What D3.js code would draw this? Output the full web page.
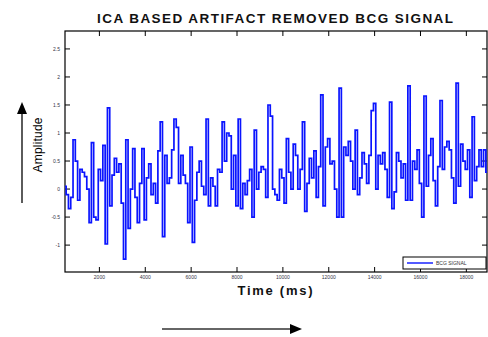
<!DOCTYPE html>
<html><head><meta charset="utf-8">
<script src="https://cdn.jsdelivr.net/npm/d3@7"></script>
<style>body{margin:0;background:#fff}svg{display:block}</style>
</head><body><svg id="c" width="488" height="337"></svg>
<script>
const title = "ICA BASED ARTIFACT REMOVED BCG SIGNAL";
const xLabel = "Time (ms)";
const yLabel = "Amplitude";
const seriesName = "BCG SIGNAL";
const xTicks = [2000, 4000, 6000, 8000, 10000, 12000, 14000, 16000, 18000];
const xTickLabels = ["2000","4000","6000","8000","10000","12000","14000","16000","18000"];
const yTicks = [2.5, 2, 1.5, 1, 0.5, 0, -0.5, -1];
const yTickLabels = ["2.5","2","1.5","1","0.5","0","-0.5","-1"];
const tStart = 500, tStep = 100;
const amplitude = [
 0.05,-0.1,-0.35,-0.15,0.88,0.5,-0.2,0.35,0.3,0.22,
 0.0,-0.6,0.83,-0.5,-0.55,0.35,0.15,0.78,-0.98,1.45,
 -0.3,0.25,0.55,0.3,0.45,-0.25,-1.25,0.88,-0.7,0.0,
 0.72,-0.15,-0.6,0.1,0.72,-0.55,0.2,0.45,-0.1,0.1,
 -0.25,0.68,1.2,-0.85,0.6,0.1,0.2,0.7,1.25,1.1,
 0.1,0.6,0.25,0.1,-0.6,0.75,-0.95,-0.2,0.3,0.5,
 0.05,-0.1,1.25,-0.3,0.2,0.05,-0.3,0.35,0.3,1.2,
 0.5,1.0,0.95,0.0,0.6,-0.3,1.25,-0.35,0.1,-0.1,
 0.15,0.35,-0.5,1.05,0.0,0.3,0.4,0.35,-0.15,1.5,
 1.3,0.0,-0.1,-0.2,0.35,0.2,-0.25,0.9,0.3,0.0,
 0.8,0.6,0.0,0.35,1.2,-0.4,0.1,0.55,0.2,0.68,
 -0.15,0.4,1.68,-0.3,0.75,0.9,0.45,0.5,0.0,-0.5,
 1.8,-0.5,0.75,0.6,0.85,0.5,0.0,1.05,-0.1,0.2,
 0.65,0.45,0.1,0.6,1.4,1.53,0.0,0.6,0.45,0.65,
 0.35,-0.15,1.55,-0.35,-0.05,0.65,0.5,0.2,0.45,-0.2,
 1.84,-0.2,0.5,0.35,0.7,0.1,-0.5,1.66,0.05,0.6,
 0.9,0.15,-0.3,0.4,1.58,0.35,0.75,0.85,0.7,0.2,
 -0.25,1.89,0.05,0.8,0.5,0.35,0.7,-0.15,1.29,0.15,
 0.4,0.7,0.4,0.7,0.3
];
const times = amplitude.map((_, i) => tStart + i * tStep);

const svg = d3.select("#c");
const L = 65, R = 487, T = 31, B = 272;
const x = d3.scaleLinear().domain([500, 18900]).range([L, R]);
const y = d3.scaleLinear().domain([-1.48, 2.82]).range([B, T]);

// frame
svg.append("rect").attr("x", L).attr("y", T).attr("width", R - L).attr("height", B - T)
  .attr("fill", "none").attr("stroke", "#000").attr("stroke-width", 1.2);

const tl = 5;
const g = svg.append("g").attr("stroke", "#000").attr("stroke-width", 1);
xTicks.forEach(v => {
  g.append("line").attr("x1", x(v)).attr("x2", x(v)).attr("y1", B).attr("y2", B - tl);
  g.append("line").attr("x1", x(v)).attr("x2", x(v)).attr("y1", T).attr("y2", T + tl);
});
yTicks.forEach(v => {
  g.append("line").attr("x1", L).attr("x2", L + tl).attr("y1", y(v)).attr("y2", y(v));
  g.append("line").attr("x1", R).attr("x2", R - tl).attr("y1", y(v)).attr("y2", y(v));
});
svg.append("g").selectAll("text").data(xTicks).join("text")
  .attr("x", d => x(d)).attr("y", 279).attr("text-anchor", "middle")
  .attr("font-family", "Liberation Sans, Arial, sans-serif").attr("font-size", 5).attr("fill", "#334")
  .text((d, i) => xTickLabels[i]);
svg.append("g").selectAll("text").data(yTicks).join("text")
  .attr("x", 60).attr("y", d => y(d) + 1.8).attr("text-anchor", "end")
  .attr("font-family", "Liberation Sans, Arial, sans-serif").attr("font-size", 5).attr("fill", "#334")
  .text((d, i) => yTickLabels[i]);

// signal
const line = d3.line().x((d, i) => x(times[i])).y(d => y(d)).curve(d3.curveStep);
svg.append("path").datum(amplitude).attr("d", line)
  .attr("fill", "none").attr("stroke", "#0a14ff").attr("stroke-width", 1.7);

// title and labels
svg.append("text").attr("x", 275).attr("y", 23).attr("text-anchor", "middle")
  .attr("font-family", "Liberation Sans, Arial, sans-serif").attr("font-weight", "bold")
  .attr("font-size", 13.5).attr("fill", "#111").attr("textLength", 356).attr("lengthAdjust", "spacing")
  .text(title);
svg.append("text").attr("x", 275).attr("y", 295).attr("text-anchor", "middle")
  .attr("font-family", "Liberation Sans, Arial, sans-serif").attr("font-weight", "bold")
  .attr("font-size", 13).attr("fill", "#111").attr("textLength", 75).attr("lengthAdjust", "spacing")
  .text(xLabel);
svg.append("text").attr("transform", "translate(42,145) rotate(-90)").attr("text-anchor", "middle")
  .attr("font-family", "Liberation Sans, Arial, sans-serif").attr("font-size", 12).attr("fill", "#000")
  .attr("textLength", 55).attr("lengthAdjust", "spacing")
  .text(yLabel);

// arrows
svg.append("line").attr("x1", 22).attr("x2", 22).attr("y1", 203).attr("y2", 112)
  .attr("stroke", "#333").attr("stroke-width", 1.6);
svg.append("path").attr("d", "M22,102 L17,114 L27,114 Z").attr("fill", "#000");
svg.append("line").attr("x1", 162).attr("x2", 292).attr("y1", 329).attr("y2", 329)
  .attr("stroke", "#333").attr("stroke-width", 1.6);
svg.append("path").attr("d", "M302,329 L290,324 L290,334 Z").attr("fill", "#000");

// legend
svg.append("rect").attr("x", 403).attr("y", 257).attr("width", 83).attr("height", 12)
  .attr("fill", "#fff").attr("stroke", "#000").attr("stroke-width", 1);
svg.append("line").attr("x1", 407).attr("x2", 433).attr("y1", 263).attr("y2", 263)
  .attr("stroke", "#0a14ff").attr("stroke-width", 1.4);
svg.append("text").attr("x", 436).attr("y", 265).attr("font-family", "Liberation Sans, Arial, sans-serif")
  .attr("font-size", 5).attr("fill", "#333").text(seriesName);
</script></body></html>
